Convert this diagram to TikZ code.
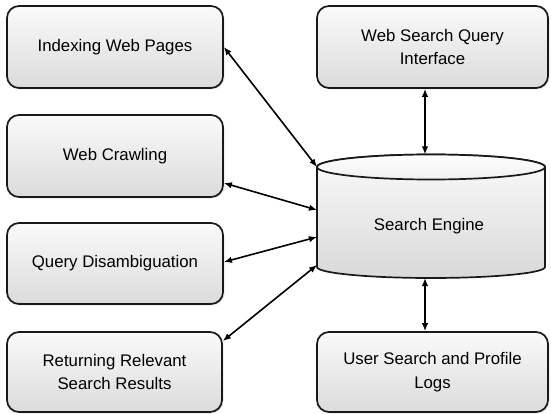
\documentclass[tikz,border=0pt]{standalone}
\usepackage{fontspec}
\setmainfont{Liberation Sans}
\usetikzlibrary{arrows.meta,shadows}
\begin{document}
\begin{tikzpicture}[x=1pt,y=-1pt,
  box/.style={draw=black!90, line width=1.7pt, rounded corners=12pt,
    top color=gray!4, bottom color=gray!28, align=center, inner sep=0pt,
    drop shadow={opacity=0.18, shadow xshift=1.5pt, shadow yshift=-1.5pt},
    font=\fontsize{16.8}{23.5}\selectfont, text=black},
  link/.style={line width=1.6pt, {Latex[length=8pt,width=6.5pt]}-{Latex[length=8pt,width=6.5pt]}}
]
\useasboundingbox (0,0) rectangle (551,414);

\node[box, minimum width=216pt, minimum height=82pt] (b1) at (115,47) {\raisebox{-1.5pt}{Indexing Web Pages}};
\node[box, minimum width=216pt, minimum height=82pt] (b2) at (115,156) {\raisebox{-1.5pt}{Web Crawling}};
\node[box, minimum width=216pt, minimum height=81pt] (b3) at (115,263.5) {\raisebox{-1.5pt}{Query Disambiguation}};
\node[box, minimum width=215pt, minimum height=80pt] (b4) at (114.5,372) {Returning Relevant\\Search Results};
\node[box, minimum width=231pt, minimum height=82pt] (r1) at (432.5,47) {Web Search Query\\Interface};
\node[box, minimum width=231pt, minimum height=80pt] (r2) at (432.5,372) {User Search and Profile\\Logs};

% cylinder
\draw[line width=1.7pt, draw=black!90, top color=gray!4, bottom color=gray!30]
  (317,167) -- (317,267) arc[start angle=180, end angle=360, x radius=114pt, y radius=11pt]
  -- (545,167) arc[start angle=0, end angle=180, x radius=114pt, y radius=12.5pt] -- cycle;
\draw[line width=1.7pt, draw=black!90, top color=white, bottom color=gray!12]
  (431,167) ellipse[x radius=114pt, y radius=12.5pt];
\node[font=\fontsize{16.8}{23.5}\selectfont] (se) at (429,226) {Search Engine};

\coordinate (c1) at (317,167);
\coordinate (c2) at (317,210);
\coordinate (c3) at (317,237);
\coordinate (c4) at (317,265);
\coordinate (ct) at (425,154.5);
\coordinate (cb) at (425,278);

\draw[link] (b1.east) -- (c1);
\draw[link] ([yshift=-27pt]b2.east) -- (c2);
\draw[link] ([yshift=1.5pt]b3.east) -- (c3);
\draw[link] ([yshift=31pt]b4.east) -- (c4);
\draw[link] ([xshift=-7.5pt]r1.south) -- (ct);
\draw[link] (cb) -- ([xshift=-7.5pt]r2.north);
\end{tikzpicture}
\end{document}
